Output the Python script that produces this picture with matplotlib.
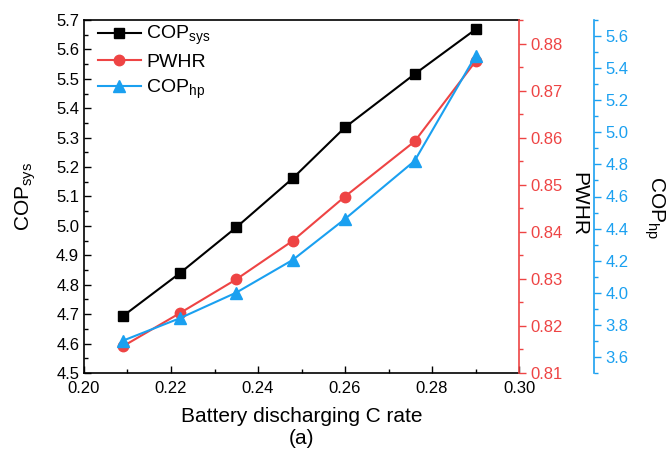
import matplotlib
matplotlib.use("Agg")
import matplotlib.pyplot as plt
from matplotlib.ticker import MultipleLocator, FormatStrFormatter

plt.rcParams['font.family'] = ['Liberation Sans', 'DejaVu Sans']
plt.rcParams['mathtext.fontset'] = 'custom'
plt.rcParams['mathtext.rm'] = 'Liberation Sans'
plt.rcParams['mathtext.it'] = 'Liberation Sans:italic'

c_rate = [0.209, 0.222, 0.235, 0.248, 0.260, 0.276, 0.290]
cop_sys = [4.694, 4.839, 4.995, 5.162, 5.335, 5.516, 5.668]
pwhr = [0.8157, 0.8227, 0.8299, 0.8381, 0.8475, 0.8592, 0.8762]
cop_hp = [3.702, 3.841, 4.001, 4.205, 4.460, 4.822, 5.476]

RED = '#EE4444'
BLUE = '#1AA0F0'

fig = plt.figure(figsize=(6.66, 4.53), dpi=100)
ax = fig.add_axes([84/666, 1-373/453, (519-84)/666, (373-20)/453])
ax2 = ax.twinx()
ax3 = ax.twinx()
ax3.spines['right'].set_position(('outward', 75*72/100))

l1, = ax.plot(c_rate, cop_sys, color='black', marker='s', markersize=7, lw=1.5, label=r'COP$_{\mathrm{sys}}$')
l2, = ax2.plot(c_rate, pwhr, color=RED, marker='o', markersize=7.5, lw=1.5, label='PWHR')
l3, = ax3.plot(c_rate, cop_hp, color=BLUE, marker='^', markersize=8, lw=1.5, label=r'COP$_{\mathrm{hp}}$')

ax.set_xlim(0.20, 0.30)
ax.set_ylim(4.5, 5.7)
ax2.set_ylim(0.81, 0.885)
ax3.set_ylim(3.5, 5.7)

ax.xaxis.set_major_locator(MultipleLocator(0.02))
ax.xaxis.set_minor_locator(MultipleLocator(0.01))
ax.xaxis.set_major_formatter(FormatStrFormatter('%.2f'))
ax.yaxis.set_major_locator(MultipleLocator(0.1))
ax.yaxis.set_minor_locator(MultipleLocator(0.05))
ax.yaxis.set_major_formatter(FormatStrFormatter('%.1f'))
ax2.yaxis.set_major_locator(MultipleLocator(0.01))
ax2.yaxis.set_minor_locator(MultipleLocator(0.005))
ax2.yaxis.set_major_formatter(FormatStrFormatter('%.2f'))
ax3.yaxis.set_major_locator(MultipleLocator(0.2))
ax3.yaxis.set_minor_locator(MultipleLocator(0.1))
ax3.yaxis.set_major_formatter(FormatStrFormatter('%.1f'))

ax.tick_params(axis='both', which='major', direction='in', length=5, width=1, labelsize=12)
ax.tick_params(axis='both', which='minor', direction='in', length=3, width=1)
ax.tick_params(axis='x', pad=6)

for a, col in ((ax2, RED), (ax3, BLUE)):
    a.tick_params(axis='y', which='major', direction='out', length=5, width=1, colors=col, labelsize=12)
    a.tick_params(axis='y', which='minor', direction='out', length=3, width=1, colors=col)
    a.spines['right'].set_color(col)
    a.spines['right'].set_linewidth(1.2)
    for s in ('left', 'top', 'bottom'):
        a.spines[s].set_visible(False)

for s in ('left', 'top', 'bottom'):
    ax.spines[s].set_linewidth(1.2)
ax.spines['right'].set_visible(False)

ax.set_ylabel(r'COP$_{\mathrm{sys}}$', fontsize=15, labelpad=13)
ax.set_xlabel('Battery discharging C rate', fontsize=15, labelpad=8)
ax2.set_ylabel('PWHR', fontsize=15, rotation=270, labelpad=18)
ax3.set_ylabel(r'COP$_{\mathrm{hp}}$', fontsize=15, rotation=270, labelpad=27)
ax2.yaxis.label.set_y(0.48)
ax3.yaxis.label.set_y(0.47)

fig.text((84+519)/2/666, 1-438/453, '(a)', fontsize=15, ha='center', va='center')

ax3.legend(handles=[l1, l2, l3], loc='upper left', frameon=False, fontsize=14,
           handlelength=2.2, handletextpad=0.3, labelspacing=0.32,
           borderaxespad=0.0, bbox_to_anchor=(0.014, 1.01))

fig.savefig('out.png', dpi=100)
